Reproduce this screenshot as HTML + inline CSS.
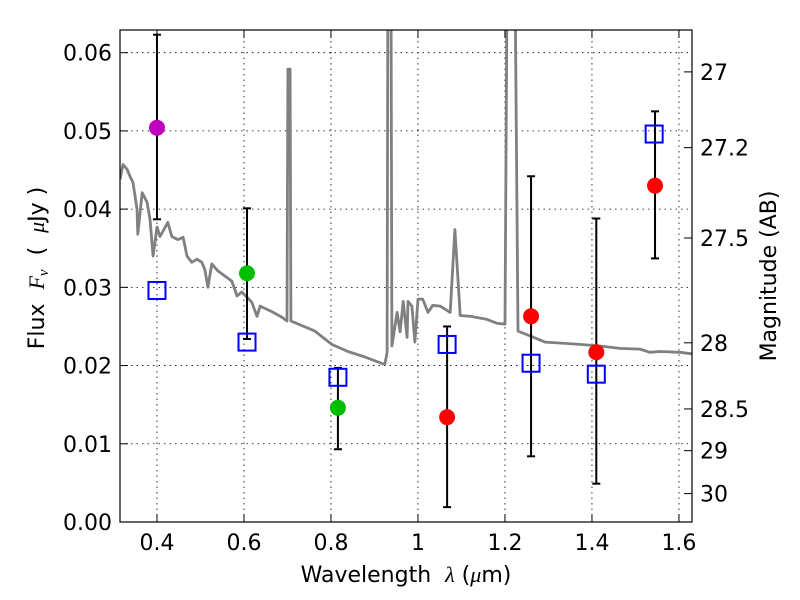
<!DOCTYPE html>
<html><head><meta charset="utf-8"><style>
html,body{margin:0;padding:0;background:#fff;}
svg{display:block;font-family:"DejaVu Sans","Liberation Sans",sans-serif;}
text{white-space:pre;}
</style></head><body>
<svg id="chart" width="800" height="600" viewBox="0 0 800 600">
<g id="grid"></g>
<g id="plot" clip-path="url(#clip)"></g>
<g id="axes"></g>
<defs><clipPath id="clip"><rect x="120" y="30" width="572" height="492"/></clipPath></defs>
</svg>
<script>
const xTicks=[0.4,0.6,0.8,1.0,1.2,1.4,1.6];
const xTickLabels=["0.4","0.6","0.8","1","1.2","1.4","1.6"];
const yTicks=[0,0.01,0.02,0.03,0.04,0.05,0.06];
const yTickLabels=["0.00","0.01","0.02","0.03","0.04","0.05","0.06"];
const magTicks=[27,27.2,27.5,28,28.5,29,30];
const magTickLabels=["27","27.2","27.5","28","28.5","29","30"];
const specWave=[0.315,0.322,0.331,0.338,0.345,0.354,0.356,0.366,0.377,0.384,0.391,0.400,0.407,0.425,0.434,0.448,0.460,0.469,0.480,0.492,0.503,0.510,0.517,0.526,0.540,0.572,0.584,0.595,0.618,0.630,0.637,0.664,0.687,0.699,0.701,0.706,0.708,0.763,0.802,0.839,0.878,0.920,0.924,0.929,0.931,0.938,0.940,0.952,0.959,0.966,0.975,0.977,0.986,0.993,1.000,1.011,1.023,1.034,1.051,1.074,1.085,1.097,1.120,1.159,1.182,1.200,1.205,1.223,1.230,1.257,1.292,1.320,1.372,1.418,1.464,1.510,1.533,1.556,1.602,1.630];
const specFlux=[0.0438,0.0457,0.0451,0.0442,0.0434,0.0400,0.0368,0.0421,0.0409,0.0387,0.0340,0.0377,0.0365,0.0383,0.0365,0.0361,0.0364,0.0340,0.0332,0.0336,0.0332,0.0323,0.0300,0.0330,0.0321,0.0308,0.0289,0.0294,0.0281,0.0263,0.0276,0.0269,0.0262,0.0257,0.0579,0.0579,0.0257,0.0244,0.0227,0.0218,0.0211,0.0202,0.0202,0.0217,0.070,0.070,0.0225,0.0268,0.0243,0.0282,0.0236,0.0282,0.0276,0.0230,0.0285,0.0285,0.0268,0.0277,0.0276,0.0268,0.0374,0.0264,0.0263,0.0259,0.0254,0.0253,0.070,0.070,0.0244,0.0238,0.0230,0.0229,0.0227,0.0225,0.0222,0.0221,0.0217,0.0218,0.0217,0.0215];
const modelWave=[0.400,0.607,0.816,1.067,1.260,1.410,1.543];
const modelFlux=[0.0296,0.0230,0.0185,0.0227,0.0203,0.0189,0.0496];
const obsWave=[0.400,0.607,0.816,1.067,1.260,1.410,1.545];
const obsFlux=[0.0504,0.0318,0.0146,0.0134,0.0263,0.0217,0.0430];
const obsHi=[0.0623,0.0401,0.0197,0.0250,0.0442,0.0388,0.0525];
const obsLo=[0.0387,0.0234,0.0093,0.0019,0.0084,0.0049,0.0337];
const obsColor=["#bf00bf","#00bf00","#00bf00","#ff0000","#ff0000","#ff0000","#ff0000"];

const L=120,R=692,T=30,B=522;
const xMin=0.315,xMax=1.63,yMin=0,yMax=0.0629;
const sx=v=>L+(v-xMin)/(xMax-xMin)*(R-L);
const sy=v=>B-(v-yMin)/(yMax-yMin)*(B-T);
const magToFlux=m=>Math.pow(10,(23.9-m)/2.5);
const NS="http://www.w3.org/2000/svg";
function mk(tag,attrs,parent){const e=document.createElementNS(NS,tag);for(const k in attrs)e.setAttribute(k,attrs[k]);parent.appendChild(e);return e;}
const grid=document.getElementById('grid'),plot=document.getElementById('plot'),axes=document.getElementById('axes');

xTicks.forEach((t,i)=>{
  const x=sx(t);
  const g=mk('line',{x1:x,x2:x,y1:T,y2:B,stroke:'#000','stroke-width':0.8,'stroke-dasharray':'1.5,4'},grid);
  
  
  const a=mk('line',{x1:x,x2:x,y1:B,y2:B-8,stroke:'#000','stroke-width':1},axes);
  
  
  const b=mk('line',{x1:x,x2:x,y1:T,y2:T+8,stroke:'#000','stroke-width':1},axes);
  
  
  const tx=mk('text',{x:x,y:B+28,'text-anchor':'middle','font-size':22},axes);
  tx.textContent=xTickLabels[i];
  
  
});
yTicks.forEach((t,i)=>{
  const y=sy(t);
  const g=mk('line',{x1:L,x2:R,y1:y,y2:y,stroke:'#000','stroke-width':0.8,'stroke-dasharray':'1.5,4'},grid);
  
  
  const a=mk('line',{x1:L,x2:L+8,y1:y,y2:y,stroke:'#000','stroke-width':1},axes);
  
  
  const tx=mk('text',{x:L-8,y:y+8,'text-anchor':'end','font-size':22},axes);
  tx.textContent=yTickLabels[i];
  
  
});
magTicks.forEach((m,i)=>{
  const y=sy(magToFlux(m));
  const a=mk('line',{x1:R,x2:R-8,y1:y,y2:y,stroke:'#000','stroke-width':1},axes);
  
  
  const tx=mk('text',{x:R+8,y:y+8,'text-anchor':'start','font-size':22},axes);
  tx.textContent=magTickLabels[i];
  
  
});

const pts=specWave.map((w,i)=>sx(w).toFixed(1)+','+sy(specFlux[i]).toFixed(1)).join(' ');
const sp=mk('polyline',{points:pts,fill:'none',stroke:'#808080','stroke-width':2.8,'stroke-linejoin':'round'},plot);



obsWave.forEach((w,i)=>{
  const x=sx(w);
  const e=mk('line',{x1:x,x2:x,y1:sy(obsHi[i]),y2:sy(obsLo[i]),stroke:'#000','stroke-width':2},plot);
  
  
  [obsHi[i],obsLo[i]].forEach(v=>{
    const c=mk('line',{x1:x-4,x2:x+4,y1:sy(v),y2:sy(v),stroke:'#000','stroke-width':2},plot);
    
    
  });
});
modelWave.forEach((w,i)=>{
  const r=mk('rect',{x:sx(w)-8.5,y:sy(modelFlux[i])-8.5,width:17,height:17,fill:'none',stroke:'#0000ff','stroke-width':2},plot);
  
  
});
obsWave.forEach((w,i)=>{
  const c=mk('circle',{cx:sx(w),cy:sy(obsFlux[i]),r:8,fill:obsColor[i]},plot);
  
  
});

const fr=mk('rect',{x:L,y:T,width:R-L,height:B-T,fill:'none',stroke:'#000','stroke-width':1.2},axes);



const xl=mk('text',{x:(L+R)/2,y:582,'text-anchor':'middle','font-size':22},axes);
xl.innerHTML='Wavelength  <tspan font-family="Liberation Serif" font-style="italic">λ</tspan> (<tspan font-family="Liberation Serif" font-style="italic">μ</tspan>m)';


const yl=mk('text',{x:0,y:0,'text-anchor':'middle','font-size':22,transform:'translate(44,268) rotate(-90)'},axes);
yl.innerHTML='Flux  <tspan font-family="Liberation Serif" font-style="italic">F<tspan font-size="15" dy="4">ν</tspan></tspan><tspan dy="-4">  (  </tspan><tspan font-family="Liberation Serif" font-style="italic">μ</tspan>Jy )';


const rl=mk('text',{x:0,y:0,'text-anchor':'middle','font-size':22,transform:'translate(776,276) rotate(-90)'},axes);
rl.textContent='Magnitude (AB)';


</script>
</body></html>
